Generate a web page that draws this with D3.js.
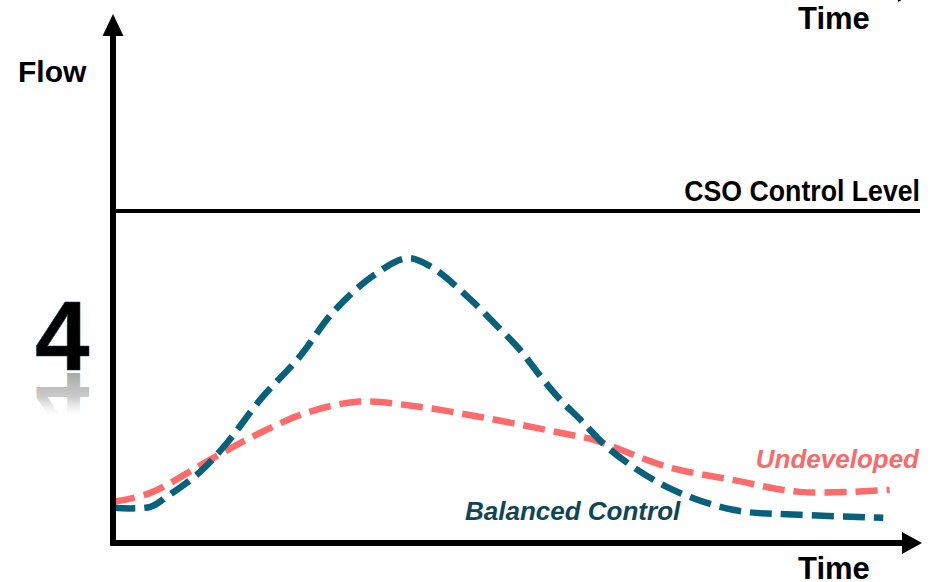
<!DOCTYPE html>
<html>
<head>
<meta charset="utf-8">
<style>
body { margin: 0; background: #fff; }
text { font-family: "Liberation Sans", Arial, sans-serif; font-weight: bold; }
</style>
</head>
<body>
<script src="https://cdn.jsdelivr.net/npm/d3@7"></script>
<script>

// time (0-100) vs flow (0-100, CSO control level = 100)
var balancedTime = [0.4, 5, 7, 11, 14.5, 18.6, 23.5, 27.6, 32.5, 36.8, 39.6, 44.2, 48.3, 50.7, 53.6, 55.7, 58.2, 61.9, 68.9, 77.1, 85.4, 95.7];
var balancedFlow = [10.6, 10.9, 13.9, 21.1, 30.2, 43.2, 56.2, 69.5, 80.4, 85.8, 83.4, 74.3, 64.4, 58.3, 49.2, 43.2, 37.2, 28.1, 16.9, 10.0, 8.5, 7.6];
var undevTime = [0.4, 5, 12.4, 18.6, 24.4, 30.9, 38, 46.2, 55.7, 59.8, 68.9, 77.1, 85.4, 96.5];
var undevFlow = [12.4, 15.1, 25.1, 33.2, 39.3, 42.6, 41.1, 37.8, 33.2, 31.1, 23.0, 19.0, 15.4, 16.0];
var csoLevel = 100;

var width = 940, height = 582;

var x = d3.scaleLinear().domain([0, 100]).range([110, 918]);
var y = d3.scaleLinear().domain([0, 100]).range([543, 211]);

var svg = d3.select("body").append("svg")
    .attr("width", width)
    .attr("height", height);

var defs = svg.append("defs");
var grad = defs.append("linearGradient")
    .attr("id", "fade")
    .attr("gradientUnits", "userSpaceOnUse")
    .attr("x1", 0).attr("y1", 0).attr("x2", 0).attr("y2", -70);
grad.append("stop").attr("offset", "0%").attr("stop-color", "#999").attr("stop-opacity", 0.85);
grad.append("stop").attr("offset", "35%").attr("stop-color", "#aaa").attr("stop-opacity", 0.6);
grad.append("stop").attr("offset", "60%").attr("stop-color", "#ccc").attr("stop-opacity", 0);

// big "4" with reflection
svg.append("text")
    .attr("x", 35).attr("y", 370)
    .style("font-size", "98px")
    .style("fill", "#000")
    .style("stroke", "#124545").style("stroke-width", 0.6)
    .text("4");
svg.append("text")
    .attr("transform", "translate(35,373) scale(1,-1)")
    .attr("x", 0).attr("y", 0)
    .style("font-size", "98px")
    .style("fill", "url(#fade)")
    .text("4");

// CSO control level
svg.append("line")
    .attr("x1", x(0)).attr("x2", x(100) + 2)
    .attr("y1", y(csoLevel)).attr("y2", y(csoLevel))
    .style("stroke", "#000").style("stroke-width", 4);
svg.append("text")
    .attr("transform", "translate(920,201) scale(0.89,1)")
    .attr("text-anchor", "end")
    .style("font-size", "30px")
    .text("CSO Control Level");

var line = d3.line()
    .x(function(d) { return x(d[0]); })
    .y(function(d) { return y(d[1]); })
    .curve(d3.curveCatmullRom);

var undev = d3.zip(undevTime, undevFlow);
var balanced = d3.zip(balancedTime, balancedFlow);

svg.append("path")
    .datum(undev)
    .attr("d", line)
    .style("fill", "none")
    .style("stroke", "#ff6b6b")
    .style("stroke-width", 6.5)
    .style("stroke-dasharray", "22,9");

svg.append("path")
    .datum(balanced)
    .attr("d", line)
    .style("fill", "none")
    .style("stroke", "#07617a")
    .style("stroke-width", 6.5)
    .style("stroke-dasharray", "22,9");

svg.append("text")
    .attr("x", 919).attr("y", 468)
    .attr("text-anchor", "end")
    .style("font-style", "italic")
    .style("font-size", "26px")
    .style("fill", "#f76b6b")
    .text("Undeveloped");

svg.append("text")
    .attr("x", 465).attr("y", 520)
    .style("font-style", "italic")
    .style("font-size", "26px")
    .style("fill", "#0e4656")
    .text("Balanced Control");

// axes
var x0 = x(0) + 3, y0 = y(0);
svg.append("line")
    .attr("x1", x0).attr("x2", x0)
    .attr("y1", y0 + 3).attr("y2", 34)
    .style("stroke", "#000").style("stroke-width", 6);
svg.append("path")
    .attr("d", "M" + (x0 - 10.5) + ",36L" + x0 + ",14L" + (x0 + 10.5) + ",36Z")
    .style("fill", "#000");
svg.append("line")
    .attr("x1", x0 - 3).attr("x2", 904)
    .attr("y1", y0).attr("y2", y0)
    .style("stroke", "#000").style("stroke-width", 6);
svg.append("path")
    .attr("d", "M902," + (y0 - 11) + "L922," + y0 + "L902," + (y0 + 11) + "Z")
    .style("fill", "#000");

// cropped arrow tip at the top edge
svg.append("path")
    .attr("d", "M898,-20L918,-9L898,2Z")
    .style("fill", "#000");

svg.append("text")
    .attr("x", 18).attr("y", 82)
    .style("font-size", "30px")
    .text("Flow");

svg.append("text")
    .attr("x", 798).attr("y", 29)
    .style("font-size", "31px")
    .text("Time");

svg.append("text")
    .attr("x", 798).attr("y", 579)
    .style("font-size", "31px")
    .text("Time");

</script>
</body>
</html>
